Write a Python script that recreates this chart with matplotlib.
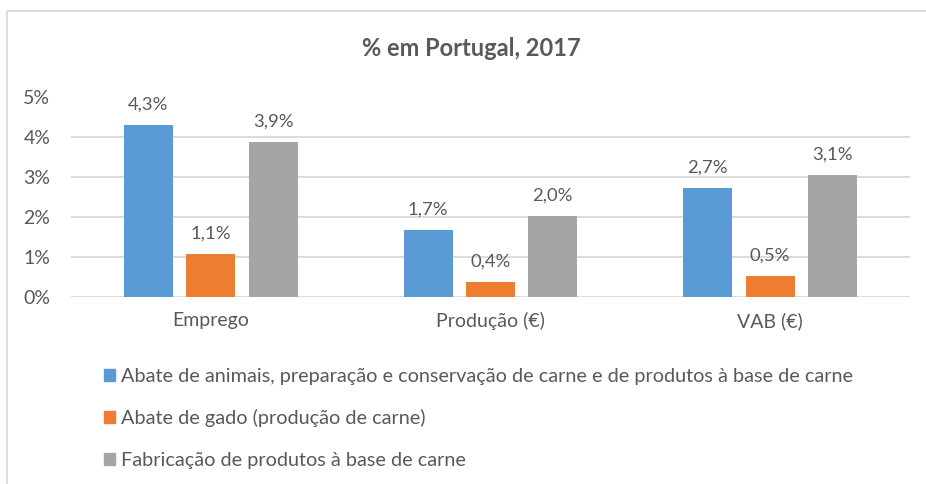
import matplotlib
matplotlib.use("Agg")
import matplotlib.pyplot as plt
from matplotlib.patches import Rectangle, Patch

plt.rcParams["font.family"] = ["Lato", "DejaVu Sans"]

categories = ["Emprego", "Produção (€)", "VAB (€)"]
series_names = [
    "Abate de animais, preparação e conservação de carne e de produtos à base de carne",
    "Abate de gado (produção de carne)",
    "Fabricação de produtos à base de carne",
]
abate_animais = [4.31, 1.68, 2.72]
abate_gado = [1.08, 0.38, 0.53]
fabricacao = [3.88, 2.03, 3.06]
colors = ["#5B9BD5", "#ED7D31", "#A5A5A5"]

text_col = "#595959"
grid_col = "#D9D9D9"

fig = plt.figure(figsize=(9.26, 4.84), dpi=100)
ax = fig.add_axes([71 / 926, 1 - 297 / 484, 839 / 926, 199.5 / 484])

width = 0.175
step = 0.223
x = range(len(categories))
for i, (vals, col) in enumerate(zip([abate_animais, abate_gado, fabricacao], colors)):
    pos = [c + (i - 1) * step for c in x]
    bars = ax.bar(pos, vals, width=width, color=col, zorder=3)
    for b, v in zip(bars, vals):
        ax.annotate(f"{v:.1f}".replace(".", ",") + "%",
                    (b.get_x() + b.get_width() / 2, v),
                    xytext=(0, 9), textcoords="offset points",
                    ha="center", va="bottom", fontsize=13.3, color=text_col)

ax.set_xlim(-0.5, 2.5)
ax.set_ylim(0, 5)
ax.set_yticks(range(6))
ax.set_yticklabels([f"{t}%" for t in range(6)])
ax.set_xticks(list(x))
ax.set_xticklabels(categories)
ax.tick_params(axis="y", length=0, pad=15, labelsize=14, labelcolor=text_col)
ax.tick_params(axis="x", length=0, pad=11, labelsize=14, labelcolor=text_col)
ax.grid(axis="y", color=grid_col, linewidth=1.3, zorder=0)
for s in ax.spines.values():
    s.set_visible(False)

fig.text(471 / 926, 1 - 48 / 484, "% em Portugal, 2017", ha="center", va="center",
         fontsize=17, fontweight="bold", color=text_col)

handles = [Patch(color=c) for c in colors]
leg = fig.legend(handles, series_names, loc="upper left",
                 bbox_to_anchor=(96 / 926, 1 - 360 / 484), frameon=False,
                 fontsize=14.3, labelcolor=text_col, handlelength=0.55,
                 handleheight=0.55, handletextpad=0.3, labelspacing=1.23,
                 borderaxespad=0)

fig.patches.append(Rectangle((7 / 926, -0.1), 1.1, 1.1 - 11 / 484, transform=fig.transFigure,
                             fill=False, edgecolor=grid_col, linewidth=1.3))

fig.savefig("out.png", dpi=100)
